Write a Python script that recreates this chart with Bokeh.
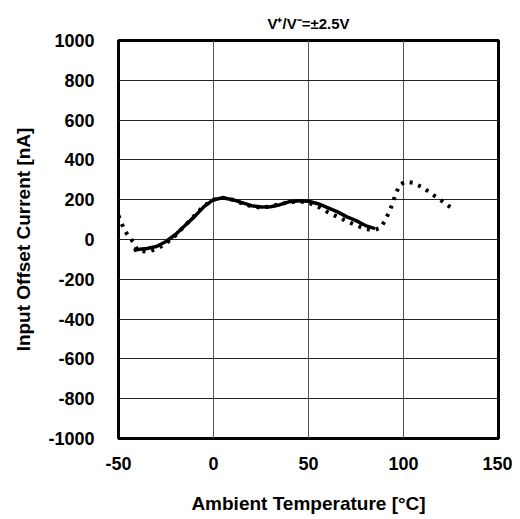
from bokeh.plotting import figure
from bokeh.models import Range1d, FixedTicker
from bokeh.embed import file_html
from bokeh.resources import INLINE

title_text = "V\u207a/V\u207b=\u00b12.5V"
x_label = "Ambient Temperature [\u00b0C]"
y_label = "Input Offset Current [nA]"
x_ticks = [-50, 0, 50, 100, 150]
y_ticks = [-1000, -800, -600, -400, -200, 0, 200, 400, 600, 800, 1000]

# Solid curve
solid_temp = [-42, -40, -35, -30, -25, -20, -15, -10, -5, 0, 5, 10, 15, 20, 25, 30, 35,
              40, 45, 50, 55, 60, 65, 70, 75, 80, 85]
solid_val = [-55, -50, -45, -35, -10, 25, 70, 115, 165, 200, 210, 200, 185, 170, 163,
             165, 175, 190, 195, 192, 180, 160, 140, 115, 95, 70, 55]

# Dotted curve
dot_temp = [-50, -47, -45, -42, -40, -35, -30, -25, -20, -15, -10, -5, 0, 5, 10, 15, 20,
            25, 30, 35, 40, 45, 50, 55, 60, 65, 70, 75, 80, 85, 88, 90, 93, 96, 98,
            101, 105, 110, 115, 120, 125]
dot_val = [120, 50, 20, -15, -55, -62, -48, -20, 20, 70, 120, 170, 200, 210, 200, 182,
           166, 160, 166, 178, 188, 192, 185, 165, 138, 115, 92, 72, 52, 48, 60, 90,
           150, 230, 275, 290, 285, 262, 228, 195, 160]

p = figure(width=512, height=518, output_backend="svg", toolbar_location=None,
           x_range=Range1d(-50, 150), y_range=Range1d(-1000, 1000),
           min_border_left=118, min_border_right=14, min_border_top=40,
           min_border_bottom=80)

p.title.text = title_text
p.title.align = "center"
p.title.text_font = "Liberation Sans"
p.title.text_font_size = "15px"
p.title.text_font_style = "bold"
p.title.text_color = "black"
p.title.standoff = 17

p.line(dot_temp, dot_val, line_color="black", line_width=4, line_dash="3 6")
p.line(solid_temp, solid_val, line_color="black", line_width=3.5)

p.outline_line_color = "black"
p.outline_line_width = 3
p.background_fill_color = "white"
p.border_fill_color = "white"

p.xaxis.ticker = FixedTicker(ticks=x_ticks)
p.yaxis.ticker = FixedTicker(ticks=y_ticks)
p.xaxis.major_label_overrides = {t: str(t) for t in x_ticks}
p.yaxis.major_label_overrides = {t: str(t) for t in y_ticks}
for ax in (p.xaxis, p.yaxis):
    ax.axis_line_color = None
    ax.major_tick_line_color = None
    ax.minor_tick_line_color = None
    ax.major_label_text_font = "Liberation Sans"
    ax.major_label_text_font_size = "18px"
    ax.major_label_text_font_style = "bold"
    ax.major_label_text_color = "black"
    ax.axis_label_text_font = "Liberation Sans"
    ax.axis_label_text_font_size = "19px"
    ax.axis_label_text_font_style = "bold"
    ax.axis_label_text_color = "black"

p.xaxis.axis_label = x_label
p.yaxis.axis_label = y_label
p.xaxis.major_label_standoff = 12
p.xaxis.axis_label_standoff = 20
p.yaxis.major_label_standoff = 18
p.yaxis.axis_label_standoff = 11

p.xgrid.grid_line_color = "#555555"
p.xgrid.grid_line_width = 1
p.ygrid.grid_line_color = "#222222"
p.ygrid.grid_line_width = 1

open("out.html", "w").write(file_html(p, INLINE))
